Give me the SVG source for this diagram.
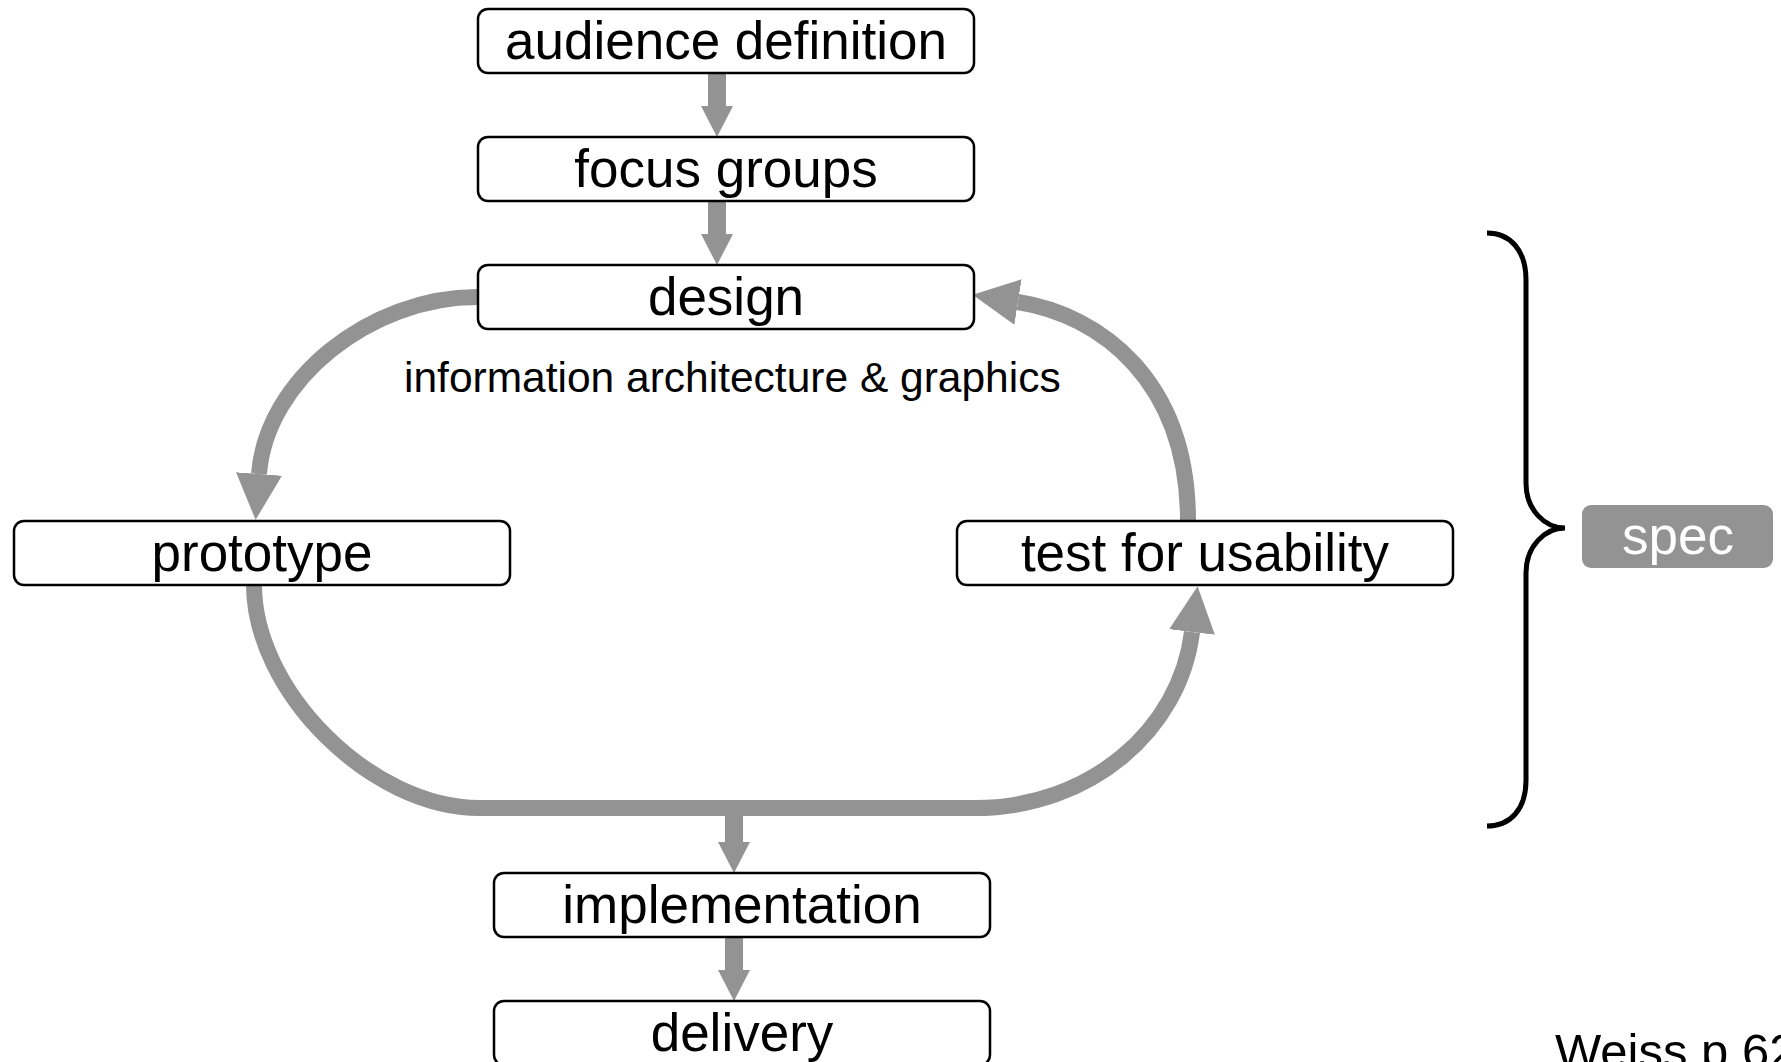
<svg xmlns="http://www.w3.org/2000/svg" width="1781" height="1062" viewBox="0 0 1781 1062">
<defs>
<style>
.box{fill:#fff;stroke:#000;stroke-width:2.5}
.lbl{font-family:"Liberation Sans",Arial,Helvetica,sans-serif;font-size:53px;fill:#000;text-anchor:middle}
.cap{font-family:"Liberation Sans",Arial,Helvetica,sans-serif;font-size:42.5px;fill:#000}
.st{stroke:#939393;stroke-width:18;fill:none}
.cv{stroke:#939393;stroke-width:16;fill:none}
</style>
<marker id="hs" markerUnits="userSpaceOnUse" markerWidth="32" markerHeight="32" refX="0" refY="16" orient="auto" viewBox="0 0 32 32">
<path d="M0,0 L31,16 L0,32 z" fill="#939393"/>
</marker>
<marker id="hc" markerUnits="userSpaceOnUse" markerWidth="46" markerHeight="46" refX="0" refY="23" orient="auto" viewBox="0 0 46 46">
<path d="M0,0 L46,23 L0,46 z" fill="#939393"/>
</marker>
</defs>
<rect width="1781" height="1062" fill="#fff"/>
<g id="connectors">
<line class="st" x1="717" y1="74" x2="717" y2="106" marker-end="url(#hs)"/>
<line class="st" x1="717" y1="202" x2="717" y2="234" marker-end="url(#hs)"/>
<path class="cv" d="M477,297 C370,297 266,380 259,474" marker-end="url(#hc)"/>
<path class="cv" d="M1188,521 C1188,380 1100,315 1018,302" marker-end="url(#hc)"/>
<path class="cv" d="M254,585 C254,690 370,808 480,808 L975,808 C1090,808 1180,730 1192,632" marker-end="url(#hc)"/>
<line class="st" x1="734" y1="808" x2="734" y2="842" marker-end="url(#hs)"/>
<line class="st" x1="734" y1="938" x2="734" y2="970" marker-end="url(#hs)"/>
</g>
<g id="audience">
<rect class="box" x="478" y="9" width="496" height="64" rx="10"/>
<text class="lbl" x="726" y="59">audience definition</text>
</g>
<g id="focus">
<rect class="box" x="478" y="137" width="496" height="64" rx="10"/>
<text class="lbl" x="726" y="187">focus groups</text>
</g>
<g id="design">
<rect class="box" x="478" y="265" width="496" height="64" rx="10"/>
<text class="lbl" x="726" y="315">design</text>
</g>
<g id="caption">
<text class="cap" x="404" y="392">information architecture &amp; graphics</text>
</g>
<g id="prototype">
<rect class="box" x="14" y="521" width="496" height="64" rx="10"/>
<text class="lbl" x="262" y="571">prototype</text>
</g>
<g id="test">
<rect class="box" x="957" y="521" width="496" height="64" rx="10"/>
<text class="lbl" x="1205" y="571">test for usability</text>
</g>
<g id="implementation">
<rect class="box" x="494" y="873" width="496" height="64" rx="10"/>
<text class="lbl" x="742" y="923">implementation</text>
</g>
<g id="delivery">
<rect class="box" x="494" y="1001" width="496" height="64" rx="10"/>
<text class="lbl" x="742" y="1051">delivery</text>
</g>
<g id="brace">
<path d="M1487,233 C1510,233 1526,250 1526,280 L1526,483 C1526,510 1545,528 1565,528 C1545,528 1526,546 1526,573 L1526,780 C1526,810 1510,826 1487,826" fill="none" stroke="#000" stroke-width="5"/>
</g>
<g id="spec">
<rect x="1582" y="505" width="191" height="63" rx="9" fill="#939393"/>
<text class="lbl" x="1678" y="554" style="fill:#fff">spec</text>
</g>
<g id="note">
<text class="cap" x="1555" y="1068" style="font-size:49px">Weiss p 62</text>
</g>
</svg>
